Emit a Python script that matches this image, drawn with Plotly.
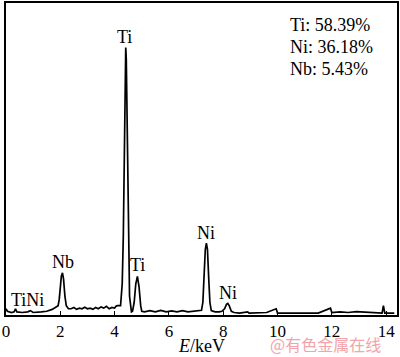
import plotly.graph_objects as go

# EDS spectrum (energy keV, relative counts)
energy = [0.0, 0.05, 0.2, 0.3, 0.35, 0.4, 0.6, 0.8, 0.9, 1.0, 1.3, 1.5, 1.7, 1.85,
          1.92, 1.96, 2.0, 2.04, 2.08, 2.12, 2.17, 2.22, 2.3,
          2.4, 2.5, 2.6, 2.7, 2.8, 2.9, 3.0, 3.1, 3.2, 3.3, 3.4, 3.5, 3.6, 3.7, 3.8, 3.9, 4.0, 4.05, 4.1,
          4.22, 4.28, 4.32, 4.36, 4.39, 4.41, 4.43, 4.46, 4.50, 4.55, 4.62,
          4.66, 4.72, 4.78, 4.84, 4.90, 4.96, 5.0,
          5.1, 5.3, 5.5, 5.7, 5.9, 6.1, 6.3, 6.5, 6.7, 6.9, 7.0, 7.1,
          7.2, 7.25, 7.29, 7.34, 7.38, 7.42, 7.47, 7.51, 7.56,
          7.7, 7.85, 7.95, 8.05, 8.12, 8.17, 8.22, 8.3, 8.4,
          8.6, 8.9, 8.95, 9.3, 9.6, 9.95, 10.0, 10.5, 11.0, 11.5, 11.95, 12.0,
          12.3, 12.6, 12.9, 13.2, 13.5, 13.85, 13.9, 13.95, 14.3]
counts = [0.02, 0.012, 0.008, 0.01, 0.02, 0.01, 0.008, 0.01, 0.014, 0.008, 0.01, 0.012, 0.018, 0.025,
          0.03, 0.05, 0.09, 0.125, 0.135, 0.115, 0.06, 0.03, 0.02,
          0.02, 0.024, 0.018, 0.022, 0.02, 0.025, 0.02, 0.022, 0.018, 0.024, 0.02, 0.026, 0.022, 0.028, 0.02, 0.024, 0.022, 0.028, 0.03,
          0.03, 0.1, 0.25, 0.6, 0.82, 0.857, 0.82, 0.6, 0.25, 0.06, 0.01,
          0.012, 0.04, 0.1, 0.124, 0.09, 0.03, 0.012,
          0.01, 0.014, 0.01, 0.015, 0.01, 0.013, 0.01, 0.014, 0.01, 0.012, 0.012, 0.015,
          0.015, 0.04, 0.12, 0.21, 0.23, 0.21, 0.11, 0.04, 0.014,
          0.01, 0.01, 0.012, 0.02, 0.034, 0.037, 0.03, 0.012, 0.008,
          0.006, 0.01, 0.006, 0.006, 0.008, 0.02, 0.006, 0.006, 0.007, 0.006, 0.022, 0.008,
          0.01, 0.008, 0.011, 0.009, 0.008, 0.006, 0.03, 0.006, 0.006]

x_ticks = [0, 2, 4, 6, 8, 10, 12, 14]

peak_labels = ["Ti", "Nb", "Ti", "Ni", "Ni", "TiNi"]
peak_x = [4.36, 2.09, 4.85, 7.35, 8.16, 0.79]
peak_y = [0.892, 0.169, 0.159, 0.264, 0.07, 0.048]

comp_text = ["Ti: 58.39%", "Ni: 36.18%", "Nb: 5.43%"]
comp_y = [0.928, 0.858, 0.79]

FONT = "Liberation Serif, Times New Roman, serif"

fig = go.Figure()
fig.add_trace(go.Scatter(x=energy, y=counts, mode="lines",
                         line=dict(color="black", width=1.7), showlegend=False))

for t, px, py in zip(peak_labels, peak_x, peak_y):
    fig.add_annotation(x=px, y=py, text=t, showarrow=False, xref="x", yref="y",
                       xanchor="center", yanchor="middle",
                       font=dict(family=FONT, size=18, color="black"))
for t, py in zip(comp_text, comp_y):
    fig.add_annotation(x=10.4, y=py, text=t, showarrow=False, xref="x", yref="y",
                       xanchor="left", yanchor="middle",
                       font=dict(family=FONT, size=18, color="black"))

fig.add_annotation(x=0.5, y=-0.1, xref="paper", yref="paper", showarrow=False,
                   xanchor="center", yanchor="middle",
                   text="<i>E</i>/keV", font=dict(family=FONT, size=18, color="black"))
fig.add_annotation(x=0.816, y=-0.094, xref="paper", yref="paper", showarrow=False,
                   xanchor="center", yanchor="middle",
                   text="@有色金属在线",
                   font=dict(family="Noto Sans CJK SC", size=16, color="#f3a3aa"))

fig.update_layout(
    width=400, height=357,
    margin=dict(l=6, r=2, t=1, b=42),
    paper_bgcolor="white", plot_bgcolor="white",
    xaxis=dict(range=[0, 14.4], tickvals=x_ticks, ticks="inside", ticklen=4,
               tickcolor="black", showline=True, linecolor="black", linewidth=1.5,
               mirror=True, showgrid=False, zeroline=False,
               tickfont=dict(family=FONT, size=17, color="black")),
    yaxis=dict(range=[0, 1], showticklabels=False, ticks="", showline=True,
               linecolor="black", linewidth=1.5, mirror=True, showgrid=False,
               zeroline=False),
)

fig.write_html("out.html")
